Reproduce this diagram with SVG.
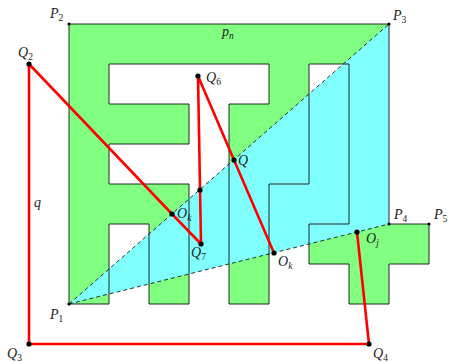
<svg xmlns="http://www.w3.org/2000/svg" width="450" height="362" viewBox="0 0 450 362">
<style>
.poly{fill:#80ff80;stroke:none}
.outline{fill:none;stroke:#111;stroke-width:0.9;stroke-linejoin:miter}
.tri{fill:#80ffff;stroke:none}
.dash{fill:none;stroke:#000;stroke-width:0.8;stroke-dasharray:4,3}
.red{fill:none;stroke:#ff0000;stroke-width:2.6;stroke-linejoin:round}
.dot{fill:#000}
.lbl{font-family:"Liberation Serif",serif;font-style:italic;font-size:14px;fill:#222}
.sub{font-size:9.5px;font-style:normal}
.subi{font-size:9.5px;font-style:italic}
</style>
<g id="polygon">
<path class="poly" d="M69,304 L69,24 L389,24 L389,224 L429,224 L429,264 L389,264 L389,304 L349,304 L349,264 L309,264 L309,224 L349,224 L349,64 L309,64 L309,184 L269,184 L269,304 L229,304 L229,104 L269,104 L269,64 L109,64 L109,104 L189,104 L189,144 L109,144 L109,184 L189,184 L189,304 L149,304 L149,224 L109,224 L109,304 Z"/>
</g>
<g id="triangle">
<path class="tri" d="M69,304 L389,24 L389,224 Z"/>
</g>
<g id="outline">
<path class="outline" d="M69,304 L69,24 L389,24 L389,224 L429,224 L429,264 L389,264 L389,304 L349,304 L349,264 L309,264 L309,224 L349,224 L349,64 L309,64 L309,184 L269,184 L269,304 L229,304 L229,104 L269,104 L269,64 L109,64 L109,104 L189,104 L189,144 L109,144 L109,184 L189,184 L189,304 L149,304 L149,224 L109,224 L109,304 Z"/>
</g>
<g id="connectors">
<path class="dash" d="M69,304 L389,24"/>
<path class="dash" d="M69,304 L389,224"/>
<path class="red" d="M357,232 L369,344 L29,344 L29,64 L172,214 L201,244 L198,76 L234,160 L274,253"/>
</g>
<g id="P1"><circle class="dot" cx="69" cy="304" r="1.6"/><text class="lbl" x="50" y="319">P<tspan class="sub" dy="3">1</tspan></text></g>
<g id="P2"><circle class="dot" cx="69" cy="24" r="1.6"/><text class="lbl" x="50" y="18">P<tspan class="sub" dy="3">2</tspan></text></g>
<g id="P3"><circle class="dot" cx="389" cy="24" r="1.6"/><text class="lbl" x="393" y="20">P<tspan class="sub" dy="3">3</tspan></text></g>
<g id="P4"><circle class="dot" cx="389" cy="224" r="1.6"/><text class="lbl" x="394" y="219">P<tspan class="sub" dy="3">4</tspan></text></g>
<g id="P5"><circle class="dot" cx="429" cy="224" r="1.6"/><text class="lbl" x="434" y="219">P<tspan class="sub" dy="3">5</tspan></text></g>
<g id="pn"><text class="lbl" x="222" y="36">p<tspan class="subi" dy="3">n</tspan></text></g>
<g id="q"><text class="lbl" x="34" y="207">q</text></g>
<g id="Q2"><circle class="dot" cx="29" cy="64" r="2.6"/><text class="lbl" x="18" y="57">Q<tspan class="sub" dy="3">2</tspan></text></g>
<g id="Q3"><circle class="dot" cx="29" cy="344" r="2.6"/><text class="lbl" x="7" y="358">Q<tspan class="sub" dy="3">3</tspan></text></g>
<g id="Q4"><circle class="dot" cx="369" cy="344" r="2.6"/><text class="lbl" x="373" y="358">Q<tspan class="sub" dy="3">4</tspan></text></g>
<g id="Q6"><circle class="dot" cx="198" cy="76" r="2.6"/><text class="lbl" x="206" y="82">Q<tspan class="sub" dy="3">6</tspan></text></g>
<g id="Q7"><circle class="dot" cx="201" cy="244" r="2.6"/><text class="lbl" x="191" y="257">Q<tspan class="sub" dy="3">7</tspan></text></g>
<g id="Q"><circle class="dot" cx="234" cy="160" r="2.6"/><text class="lbl" x="238" y="165">Q</text></g>
<g id="X"><circle class="dot" cx="200" cy="190" r="2.6"/></g>
<g id="Ok1"><circle class="dot" cx="172" cy="214" r="2.6"/><text class="lbl" x="177" y="218">O<tspan class="subi" dy="3">k</tspan></text></g>
<g id="Ok2"><circle class="dot" cx="274" cy="253" r="2.6"/><text class="lbl" x="278" y="266">O<tspan class="subi" dy="3">k</tspan></text></g>
<g id="Oj"><circle class="dot" cx="357" cy="232" r="2.6"/><text class="lbl" x="366" y="243">O<tspan class="subi" dy="3">j</tspan></text></g>
</svg>
